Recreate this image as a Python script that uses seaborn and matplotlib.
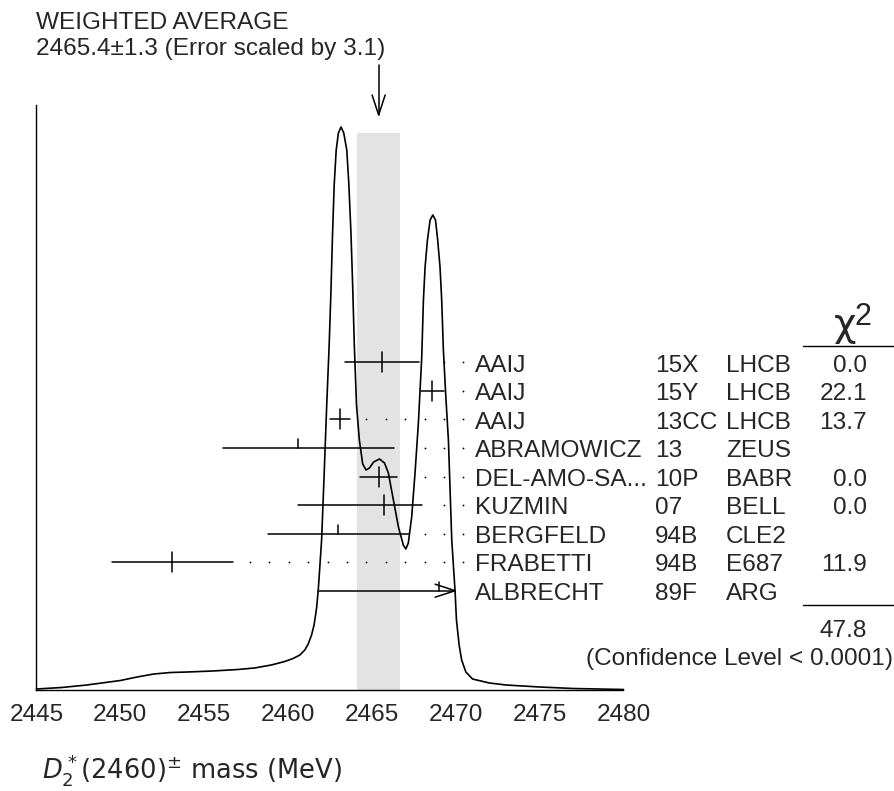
import numpy as np
import matplotlib.pyplot as plt
import seaborn as sns

# ---- weighted average ----
avg_mass = 2465.4
avg_err = 1.3
err_scale = 3.1

# ---- measurements, top to bottom ----
authors = ["AAIJ", "AAIJ", "AAIJ", "ABRAMOWICZ", "DEL-AMO-SA...", "KUZMIN",
           "BERGFELD", "FRABETTI", "ALBRECHT"]
years = ["15X", "15Y", "13CC", "13", "10P", "07", "94B", "94B", "89F"]
experiments = ["LHCB", "LHCB", "LHCB", "ZEUS", "BABR", "BELL", "CLE2", "E687", "ARG"]
mass = [2465.6, 2468.6, 2463.1, 2460.6, 2465.4, 2465.7, 2463.0, 2453.1, 2469.0]
err_lo = [2.2, 0.7, 0.6, 4.5, 1.1, 5.1, 4.2, 3.6, 7.2]
err_hi = [2.2, 0.7, 0.6, 5.7, 1.1, 2.3, 4.2, 3.6, 7.2]
used = [True, True, True, False, True, True, False, True, False]
chi2 = ["0.0", "22.1", "13.7", "", "0.0", "0.0", "", "11.9", ""]
chi2_total = "47.8"
conf_level = "(Confidence Level < 0.0001)"

# ---- ideogram curve (height in arbitrary units) ----
curve_mass = [2445.0, 2446.5, 2448.0, 2450.0, 2451.0, 2452.0, 2453.0, 2454.0, 2455.5,
              2457.0, 2458.0, 2459.0, 2459.8, 2460.3, 2460.7, 2461.0, 2461.2, 2461.4,
              2461.55, 2461.7, 2461.8, 2461.9, 2462.0, 2462.15, 2462.3, 2462.45,
              2462.55, 2462.65, 2462.75, 2462.87, 2463.0, 2463.16, 2463.32, 2463.5,
              2463.62, 2463.75, 2463.85, 2463.95, 2464.08, 2464.25, 2464.45, 2464.65,
              2464.85, 2465.1, 2465.45, 2465.75, 2465.98, 2466.28, 2466.58, 2466.87,
              2467.02, 2467.17, 2467.37, 2467.57, 2467.77, 2467.97, 2468.07, 2468.17,
              2468.31, 2468.47, 2468.63, 2468.79, 2468.92, 2469.06, 2469.16, 2469.26,
              2469.4, 2469.56, 2469.76, 2469.96, 2470.04, 2470.2, 2470.35, 2470.6,
              2471.0, 2472.0, 2473.0, 2475.0, 2477.0, 2480.0]
curve_height = [1, 2.5, 5, 9.5, 13, 16, 17.5, 18, 19,
                20.5, 22, 25, 28.5, 31.5, 35, 40, 46, 55,
                65, 82, 100, 125, 150, 215, 283, 345,
                395, 455, 505, 540, 557, 563, 557, 540,
                507, 457, 405, 345, 285, 250, 226, 220,
                222, 228, 231, 227, 217, 190, 163, 145,
                141, 147, 173, 217, 267, 333, 390, 423,
                450, 470, 475, 470, 450, 423, 390, 340,
                295, 250, 150, 98, 70, 45, 30, 18,
                11, 7, 5, 3, 1.5, 0.5]

x_ticks = [2445, 2450, 2455, 2460, 2465, 2470, 2475, 2480]

W, H = 895, 791


def fx(px):
    return px / W


def fy(py):
    return 1 - py / H


sns.set_style("white")
plt.rcParams["font.family"] = ["Liberation Sans", "DejaVu Sans"]
FS = 17.6

fig = plt.figure(figsize=(W / 100, H / 100), dpi=100)
base_px = 690
top_px = 105
ax = fig.add_axes([fx(36.5), fy(base_px), (623.5 - 36.5) / W, (base_px - top_px) / H])
ax.set_xlim(2445, 2480)
ax.set_ylim(0, base_px - top_px)

# shaded band: weighted average +- error
band_top = 557
ax.fill_between([avg_mass - avg_err, avg_mass + avg_err], 0, band_top,
                color="#e3e3e3", lw=0, zorder=0)

# ideogram
sns.lineplot(x=curve_mass, y=curve_height, sort=False, color="black", lw=1.2,
             ax=ax, zorder=3, clip_on=False)

# arrow pointing at weighted average
ax.plot([avg_mass, avg_mass], [575, 625], color="black", lw=1.1, clip_on=False)
ax.plot([avg_mass - 0.39, avg_mass, avg_mass + 0.39], [595, 575, 595],
        color="black", lw=1.1, clip_on=False)

# measurements
row_first = 690 - 362.3
row_step = 28.55
bar_clip = 2469.96
dot_last = 2470.45
dot_step = 1.157
dot_grid = dot_last - dot_step * np.arange(0, 25)
tick_h = 10
for i in range(len(mass)):
    y = row_first - row_step * i
    left = mass[i] - err_lo[i]
    right = mass[i] + err_hi[i]
    clipped = right > bar_clip
    right = min(right, bar_clip)
    ax.plot([left, right], [y, y], color="black", lw=1.1, zorder=4)
    if used[i]:
        ax.plot([mass[i], mass[i]], [y - tick_h, y + tick_h], color="black", lw=1.1, zorder=4)
    else:
        ax.plot([mass[i], mass[i]], [y, y + tick_h * 0.9], color="black", lw=1.1, zorder=4)
    if clipped:
        ax.plot([right - 1.19, right, right - 1.19], [y + 6.5, y, y - 6.5],
                color="black", lw=1.1, zorder=4, clip_on=False)
    else:
        dots = dot_grid[dot_grid > right + 0.75]
        ax.plot(dots, [y] * len(dots), ls="none", marker="o", ms=1.3,
                mec="none", color="black", zorder=4)

    # row text
    ty = 362.3 + 28.55 * i + 9.3
    fig.text(fx(475), fy(ty), authors[i], fontsize=FS, va="baseline")
    fig.text(fx(655), fy(ty), years[i], fontsize=FS, va="baseline")
    fig.text(fx(726), fy(ty), experiments[i], fontsize=FS, va="baseline")
    if chi2[i]:
        fig.text(fx(867), fy(ty), chi2[i], fontsize=FS, va="baseline", ha="right")

# axes styling
for side in ["top", "right"]:
    ax.spines[side].set_visible(False)
for side in ["left", "bottom"]:
    ax.spines[side].set_linewidth(1.0)
    ax.spines[side].set_color("black")
ax.set_yticks([])
ax.set_xticks(x_ticks)
ax.set_xticklabels([str(t) for t in x_ticks], fontsize=FS)
ax.tick_params(axis="x", direction="in", length=10, width=1.0, pad=10, color="black")

# chi-square column
fig.text(fx(856), fy(336), "\u03c7", fontsize=28, ha="right", va="baseline",
         family="DejaVu Sans")
fig.text(fx(855), fy(325), "2", fontsize=22, ha="left", va="baseline")
fig.add_artist(plt.Line2D([fx(803), fx(895)], [fy(345.7), fy(345.7)], color="black", lw=1.0))
fig.add_artist(plt.Line2D([fx(803), fx(895)], [fy(605), fy(605)], color="black", lw=1.0))
fig.text(fx(867), fy(637), chi2_total, fontsize=FS, ha="right", va="baseline")
fig.text(fx(893), fy(665), conf_level, fontsize=FS, ha="right", va="baseline")

# titles
fig.text(fx(36), fy(29), "WEIGHTED AVERAGE", fontsize=FS, va="baseline")
fig.text(fx(36), fy(55.5), f"{avg_mass}\u00b1{avg_err} (Error scaled by {err_scale})",
         fontsize=FS, va="baseline")

# x axis title
fig.text(fx(42), fy(779), r"$D_2^*(2460)^{\pm}$ mass (MeV)", fontsize=18.5,
         va="baseline", family="DejaVu Sans")

fig.savefig("out.png", dpi=100)
